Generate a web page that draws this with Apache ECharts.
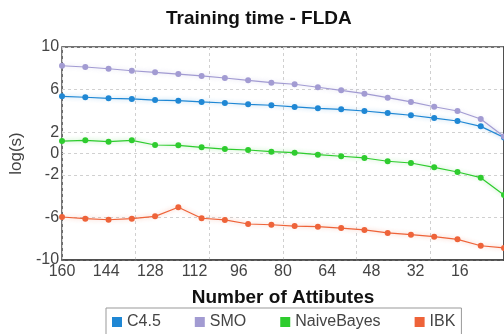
<!DOCTYPE html>
<html>
<head>
<meta charset="utf-8">
<script src="https://cdn.jsdelivr.net/npm/echarts@6/dist/echarts.min.js"></script>
<style>
  html, body { margin: 0; padding: 0; background: #fff; }
  #chart { width: 504px; height: 334px; }
</style>
</head>
<body>
<div id="chart"></div>
<script>
// Number of attributes kept after FLDA reduction (one point per setting)
const attributes = [160, 152, 144, 136, 128, 120, 112, 104, 96, 88, 80, 72, 64, 56, 48, 40, 32, 24, 16, 8];

// Training time, log(s)
const c45 = [5.37, 5.28, 5.18, 5.12, 5.02, 4.96, 4.84, 4.74, 4.62, 4.53, 4.37, 4.24, 4.15, 3.99, 3.80, 3.59, 3.33, 3.05, 2.55, 1.5];
const smo = [8.24, 8.12, 7.96, 7.77, 7.62, 7.46, 7.28, 7.09, 6.87, 6.65, 6.50, 6.22, 5.93, 5.62, 5.24, 4.84, 4.39, 3.99, 3.24, 1.6];
const naiveBayes = [1.17, 1.24, 1.11, 1.24, 0.80, 0.77, 0.58, 0.42, 0.33, 0.17, 0.08, -0.11, -0.26, -0.42, -0.73, -0.89, -1.30, -1.74, -2.27, -3.9];
const ibk = [-5.96, -6.12, -6.22, -6.12, -5.90, -5.05, -6.08, -6.24, -6.62, -6.69, -6.81, -6.87, -7.00, -7.18, -7.46, -7.62, -7.81, -8.06, -8.66, -8.87];

// Axis ticks
const yTicks = [-10, -6, -2, 0, 2, 6, 10];
const xLabelMin = 0, xLabelMax = 160, xLabelStep = 16;

const seriesDefs = [
  { name: 'C4.5', data: c45, color: '#1f87d4', halo: 'rgba(31,135,212,0.45)' },
  { name: 'SMO', data: smo, color: '#a29bd2', halo: 'rgba(162,155,210,0.45)' },
  { name: 'NaiveBayes', data: naiveBayes, color: '#2ecc2e', halo: 'rgba(46,204,46,0.45)' },
  { name: 'IBK', data: ibk, color: '#ee6339', halo: 'rgba(238,99,57,0.45)' }
];

const font = '"Liberation Sans", Arial, sans-serif';
const chart = echarts.init(document.getElementById('chart'), null, { renderer: 'canvas' });

chart.setOption({
  animation: false,
  backgroundColor: '#fff',
  title: {
    text: 'Training time - FLDA',
    left: 166, top: 9, padding: 0,
    textStyle: { fontFamily: font, fontSize: 19, fontWeight: 'bold', color: '#111' }
  },
  legend: {
    left: 106, top: 308,
    padding: [6, 6, 6, 6],
    borderColor: '#999', borderWidth: 1,
    icon: 'rect', itemWidth: 10, itemHeight: 10, itemGap: 34,
    textStyle: { fontFamily: font, fontSize: 16, color: '#444' },
    data: seriesDefs.map(s => s.name)
  },
  grid: {
    left: 55, top: 47, right: -7, bottom: 74,
    show: true, borderColor: '#444', borderWidth: 1.5, backgroundColor: 'transparent'
  },
  xAxis: [
    {
      // data axis: one slot per attribute setting
      type: 'category', data: attributes.map(String), boundaryGap: false,
      position: 'bottom',
      axisLine: { show: false }, axisTick: { show: false }, axisLabel: { show: false },
      splitLine: { show: false }
    },
    {
      // labelled scale of attribute counts
      type: 'value', min: xLabelMin, max: xLabelMax, interval: xLabelStep, inverse: true,
      position: 'bottom',
      axisLine: { show: true, lineStyle: { color: '#444', width: 1.5 } },
      axisTick: { show: false },
      axisLabel: { fontFamily: font, fontSize: 16, color: '#444', margin: 4, showMinLabel: false },
      splitLine: { show: false },
      name: 'Number of Attibutes', nameLocation: 'middle', nameGap: 28,
      nameTextStyle: { fontFamily: font, fontSize: 19, fontWeight: 'bold', color: '#111' }
    },
    {
      // vertical guide lines
      type: 'value', min: 0, max: 6, interval: 1, position: 'top',
      axisLine: { show: false }, axisTick: { show: false }, axisLabel: { show: false },
      splitLine: { show: true, lineStyle: { color: '#d0d0d0', type: [3, 3], width: 1 } }
    }
  ],
  yAxis: {
    type: 'value', min: -10, max: 10,
    axisLine: { show: true, lineStyle: { color: '#444', width: 1.5 } },
    axisTick: { show: false, customValues: yTicks },
    axisLabel: { customValues: yTicks, fontFamily: font, fontSize: 16, color: '#444', margin: 3 },
    splitLine: { show: true, lineStyle: { color: '#d0d0d0', type: [3, 3], width: 1 } },
    name: 'log(s)', nameLocation: 'middle', nameGap: 27,
    nameTextStyle: { fontFamily: font, fontSize: 17, color: '#444' }
  },
  series: seriesDefs.map(s => ({
    name: s.name, type: 'line', xAxisIndex: 0, data: s.data,
    symbol: 'circle', symbolSize: 6, color: s.color,
    itemStyle: { color: s.color },
    lineStyle: { color: s.color, width: 1.2, shadowColor: s.halo, shadowBlur: 4 }
  }))
});
</script>
</body>
</html>
